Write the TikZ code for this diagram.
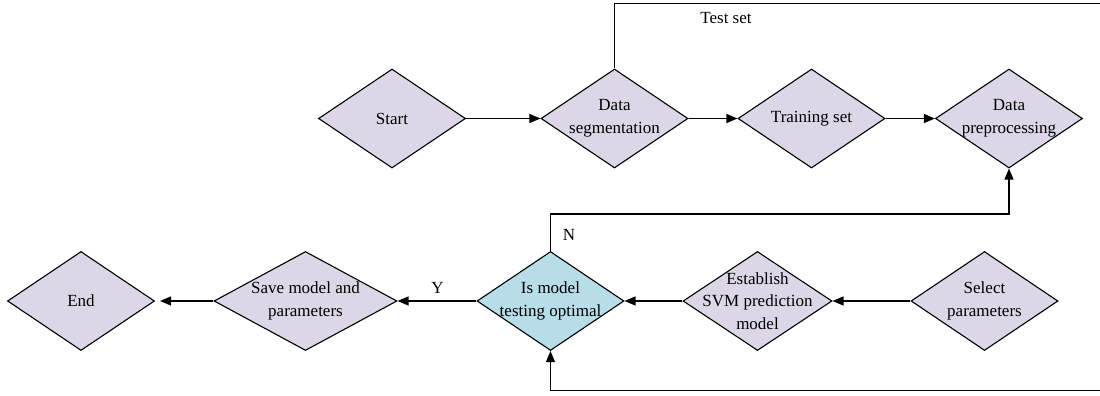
\documentclass[tikz,border=0pt]{standalone}
\usepackage{fontspec}
\setmainfont{Liberation Serif}
\usetikzlibrary{shapes.geometric,arrows.meta}
\definecolor{lav}{HTML}{DCD7E6}
\definecolor{lblue}{HTML}{B7DDE8}
\begin{document}
\begin{tikzpicture}[x=1pt,y=-1pt,
  every node/.style={font=\fontsize{17}{22.7}\selectfont},
  dia/.style={diamond,draw=black,line width=1.1pt,fill=lav,inner sep=0pt,
    minimum width=147pt,minimum height=99pt},
  txt/.style={align=center,inner sep=0pt},
  conn/.style={line width=1.3pt},
  arr/.style={conn,-{Triangle[length=11pt,width=9pt]}}]
\useasboundingbox (0,0) rectangle (1100,396);
% top row
\node[dia] (start) at (392,118.5) {};
\node[txt] at (start.center) {Start};
\node[dia] (seg) at (614.5,118.5) {};
\node[txt] at (seg.center) {Data\\segmentation};
\node[dia] (train) at (811.5,118.5) {};
\node[txt] at (train.center) {Training set};
\node[dia] (prep) at (1009,118.5) {};
\node[txt] at (prep.center) {Data\\preprocessing};
% bottom row
\node[dia] (endn) at (81,301) {};
\node[txt] at (endn.center) {End};
\node[dia,minimum width=183pt] (save) at (305.5,301) {};
\node[txt] at (save.center) {Save model and\\parameters};
\node[dia,fill=lblue] (opt) at (550.5,301) {};
\node[txt] at (opt.center) {Is model\\testing optimal};
\node[dia,minimum width=149pt] (svm) at (757.5,301) {};
\node[txt] at (svm.center) {Establish\\SVM prediction\\model};
\node[dia] (sel) at (984.5,301) {};
\node[txt] at (sel.center) {Select\\parameters};
% coordinates for routing
\coordinate (tl) at (614.5,3.5);
\coordinate (tr) at (1103,3.5);
\coordinate (br) at (1103,390.5);
\coordinate (bl) at (550.5,390.5);
\coordinate (nl) at (550.5,214);
\coordinate (nr) at (1009,214);
% connectors
\draw[arr] (start.east) -- (seg.west);
\draw[arr] (seg.east) -- (train.west);
\draw[arr] (train.east) -- (prep.west);
\draw[arr] (seg.north) -- (tl) -- (tr) -- (br) -- (bl) -- (opt.south);
\draw[arr] (opt.north) -- (nl) -- (nr) -- (prep.south);
\draw[arr] (sel.west) -- (svm.east);
\draw[arr] (svm.west) -- (opt.east);
\draw[arr] (opt.west) -- (save.east);
\draw[arr,shorten >=5pt] (save.west) -- (endn.east);
% labels
\node[txt] (testlbl) at (726,18) {Test set};
\node[txt] (nlbl) at (569,235) {N};
\node[txt] (ylbl) at (437.5,288) {Y};
\end{tikzpicture}
\end{document}
